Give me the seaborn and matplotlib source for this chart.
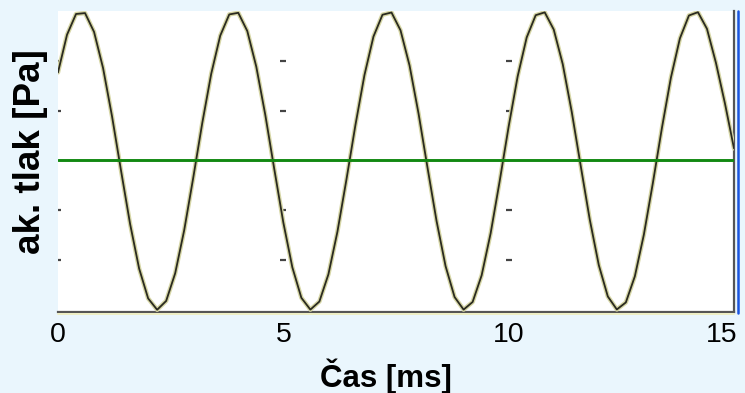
import numpy as np
import pandas as pd
import matplotlib
matplotlib.use("Agg")
import matplotlib.pyplot as plt
import matplotlib.patheffects as pe
import matplotlib.transforms as mtransforms
import seaborn as sns

# time samples [ms], step 0.2 ms, 0 .. 15
time_start = 0.0
time_step = 0.2
# acoustic pressure readings (normalised to peak amplitude)
pressure = [
    0.589, 0.841, 0.980, 0.986, 0.860, 0.618, 0.293, -0.071, -0.426, -0.724,
    -0.924, -1.000, -0.941, -0.756, -0.468, -0.118, 0.248, 0.580, 0.835, 0.977,
    0.988, 0.866, 0.627, 0.304, -0.060, -0.416, -0.716, -0.920, -0.999, -0.945,
    -0.763, -0.478, -0.129, 0.237, 0.571, 0.829, 0.975, 0.990, 0.871, 0.636,
    0.314, -0.050, -0.406, -0.708, -0.915, -0.999, -0.948, -0.770, -0.488, -0.140,
    0.227, 0.563, 0.823, 0.972, 0.991, 0.876, 0.644, 0.324, -0.039, -0.397,
    -0.701, -0.911, -0.998, -0.951, -0.776, -0.497, -0.151, 0.216, 0.554, 0.817,
    0.970, 0.992, 0.881, 0.652, 0.380, 0.080,
]
x_ticks = [0, 5, 10, 15]
x_tick_labels = ["0", "5", "10", "15"]
y_marks = [-2/3, -1/3, 1/3, 2/3]
zero_level = 0.0

time = [round(time_start + i * time_step, 3) for i in range(len(pressure))]
df = pd.DataFrame({"t": time, "p": pressure})

sns.set_theme(style="white")
plt.rcParams["font.family"] = ["Liberation Sans", "DejaVu Sans"]

bg = "#eaf6fd"
fig = plt.figure(figsize=(7.45, 3.93), dpi=100, facecolor=bg)
ax = fig.add_axes([58/745, 1 - 312/393, (734 - 58)/745, (312 - 11)/393])
ax.set_facecolor("white")

sns.lineplot(data=df, x="t", y="p", ax=ax, color="#2a2a20", linewidth=1.3,
             path_effects=[pe.Stroke(linewidth=3.2, foreground="#d6d6a6"), pe.Normal()],
             zorder=3)
ax.axhline(zero_level, color="#118811", linewidth=2.1, zorder=4)

# small tick dashes on the grid positions
for xt in x_ticks[:3]:
    ax.plot([xt] * len(y_marks), y_marks, linestyle="none", marker="_",
            markersize=4, markeredgewidth=1.6, color="#444444", zorder=2)

ax.set_xlim(0, 15)
ax.set_ylim(-1.015, 1.0)
ax.set_xticks(x_ticks)
ax.set_xticklabels(x_tick_labels)
ax.set_yticks([])
ax.tick_params(axis="x", length=0, labelsize=20.5, pad=7, colors="black")
# last label sits slightly left of its tick, as in the reference
last = ax.get_xticklabels()[-1]
last.set_transform(last.get_transform() + mtransforms.ScaledTranslation(-12/100, 0, fig.dpi_scale_trans))

for s in ["top", "left"]:
    ax.spines[s].set_visible(False)
ax.spines["bottom"].set_color("#555555")
ax.spines["bottom"].set_linewidth(1.6)
ax.spines["right"].set_color("#555555")
ax.spines["right"].set_linewidth(1.6)

# pale rim under the bottom axis and blue frame edge at the right
fig.add_artist(plt.Line2D([58/745, 734/745], [1 - 314/393, 1 - 314/393],
                          color="#efefc4", linewidth=1.4, transform=fig.transFigure))
fig.add_artist(plt.Line2D([737.5/745, 737.5/745], [1 - 313/393, 1 - 11/393],
                          color="#1a55e0", linewidth=1.8, transform=fig.transFigure))

ax.set_xlabel("Čas [ms]", fontsize=22.5, fontweight="bold", color="black")
ax.xaxis.set_label_coords((386 - 58)/676, (312 - 358)/301)
ax.set_ylabel("ak. tlak [Pa]", fontsize=26.5, fontweight="bold", color="black")
ax.yaxis.set_label_coords((48 - 58)/676, (312 - 152)/301)

fig.savefig("out.png", dpi=100, facecolor=bg)
